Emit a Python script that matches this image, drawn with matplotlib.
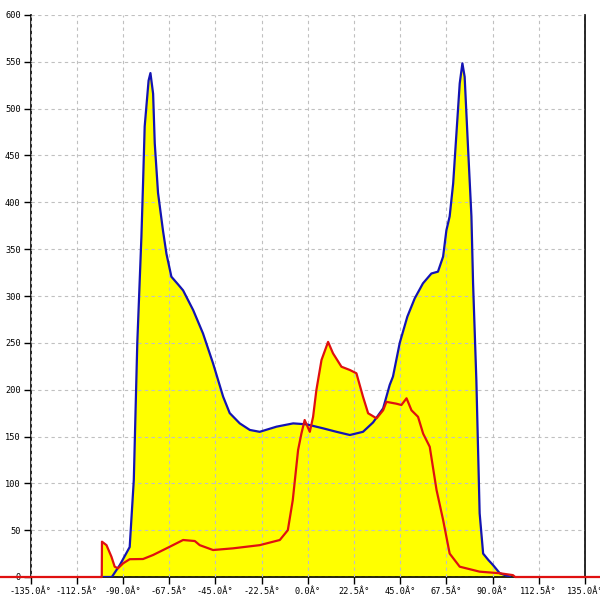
import numpy as np
import matplotlib.pyplot as plt

# angle (deg) / value pairs
blue_x = [-100.3, -95.4, -91.5, -86.7, -84.7, -83.0, -81.0, -80.2, -79.4, -77.5, -76.6,
          -75.3, -74.5, -72.9, -70.5, -68.8, -66.4, -63.0, -60.7, -55.8, -51.0, -46.1,
          -41.2, -38.0, -33.1, -28.2, -23.4, -15.2, -7.1, -0.6, 7.5, 14.0, 20.5, 26.9,
          31.8, 36.7, 39.9, 41.5, 44.8, 48.5, 52.1, 56.1, 60.2, 63.4, 65.9, 67.5, 69.1,
          70.8, 72.4, 74.0, 75.3, 76.4, 78.1, 79.7, 80.5, 82.1, 82.9, 83.7, 85.4, 88.0,
          90.2, 93.5, 98.4]
blue_y = [0, 0, 12.8, 32, 103.6, 250, 363, 420, 481, 530, 538,
          516, 463, 410, 370, 345, 320.6, 312, 306, 285, 260, 228,
          192.5, 175, 164, 157, 155, 160.5, 164, 163, 158.7, 155, 151.6, 155,
          165, 180, 205, 214, 250, 278, 297.5, 313.5, 324, 326, 342, 370, 385,
          420, 473.6, 527, 548.4, 534, 456, 385, 313.5, 210, 139, 68, 25, 18,
          12.8, 4, 0.3]

red_x = [-150, -100.3, -100.2, -98.0, -95.6, -94.0, -92.4, -89.9, -86.7, -80.2, -75.3,
         -67.2, -60.7, -55.0, -52.6, -46.1, -36.4, -23.4, -13.6, -9.7, -7.3, -4.7,
         -3.1, -1.5, 1.0, 2.6, 4.2, 6.7, 9.9, 12.3, 16.4, 20.5, 23.7, 26.9, 29.4,
         33.5, 36.7, 38.3, 43.2, 45.6, 48.1, 50.5, 53.7, 56.2, 59.4, 62.7, 65.9,
         69.1, 74.0, 83.7, 93.5, 99.9, 101.0, 150]
red_y = [0, 0, 37.7, 34, 21.7, 11, 9.3, 14.6, 19, 19.2, 23.5,
         32.3, 39.5, 38.4, 34, 28.8, 30.6, 34, 39.5, 50, 82, 135.6,
         153, 167.6, 155, 171, 199.6, 231.7, 251, 238.8, 224.5, 221, 217.5, 192.5, 174.8,
         169.4, 178, 187, 185, 183.6, 190.8, 178, 171, 153, 139, 93, 61,
         25, 11, 5.7, 4, 2, 0, 0]

x_ticks = np.arange(-135, 135.1, 22.5)
x_labels = ['%.1fÂ°' % t for t in x_ticks]
y_ticks = np.arange(0, 601, 50)

fig = plt.figure(figsize=(6, 6), dpi=100)
ax = fig.add_axes([30.5 / 600, 23 / 600, 554.5 / 600, 562 / 600])

ax.fill_between(blue_x, blue_y, 0, color='#ffff00', lw=0, zorder=1)
ax.fill_between(red_x, red_y, 0, color='#ffff00', lw=0, zorder=1)
ax.plot(blue_x, blue_y, color='#1414b4', lw=1.6, zorder=3)
ax.plot(red_x, red_y, color='#e01010', lw=1.6, zorder=4, clip_on=False)

ax.set_xlim(-135, 135)
ax.set_ylim(0, 600)
ax.set_xticks(x_ticks)
ax.set_xticklabels(x_labels, family='DejaVu Sans Mono', fontsize=6.2)
ax.set_yticks(y_ticks)
ax.set_yticklabels([str(v) for v in y_ticks], family='DejaVu Sans Mono', fontsize=6.2)
ax.tick_params(length=5, width=1, pad=2)
ax.set_axisbelow(False)
ax.grid(True, color='#c0c0c0', ls=(0, (3, 3)), lw=0.8, zorder=2)
ax.spines['top'].set_visible(False)
for s in ['left', 'right', 'bottom']:
    ax.spines[s].set_color('black')
    ax.spines[s].set_linewidth(1.2)

plt.savefig('out.png', dpi=100)
